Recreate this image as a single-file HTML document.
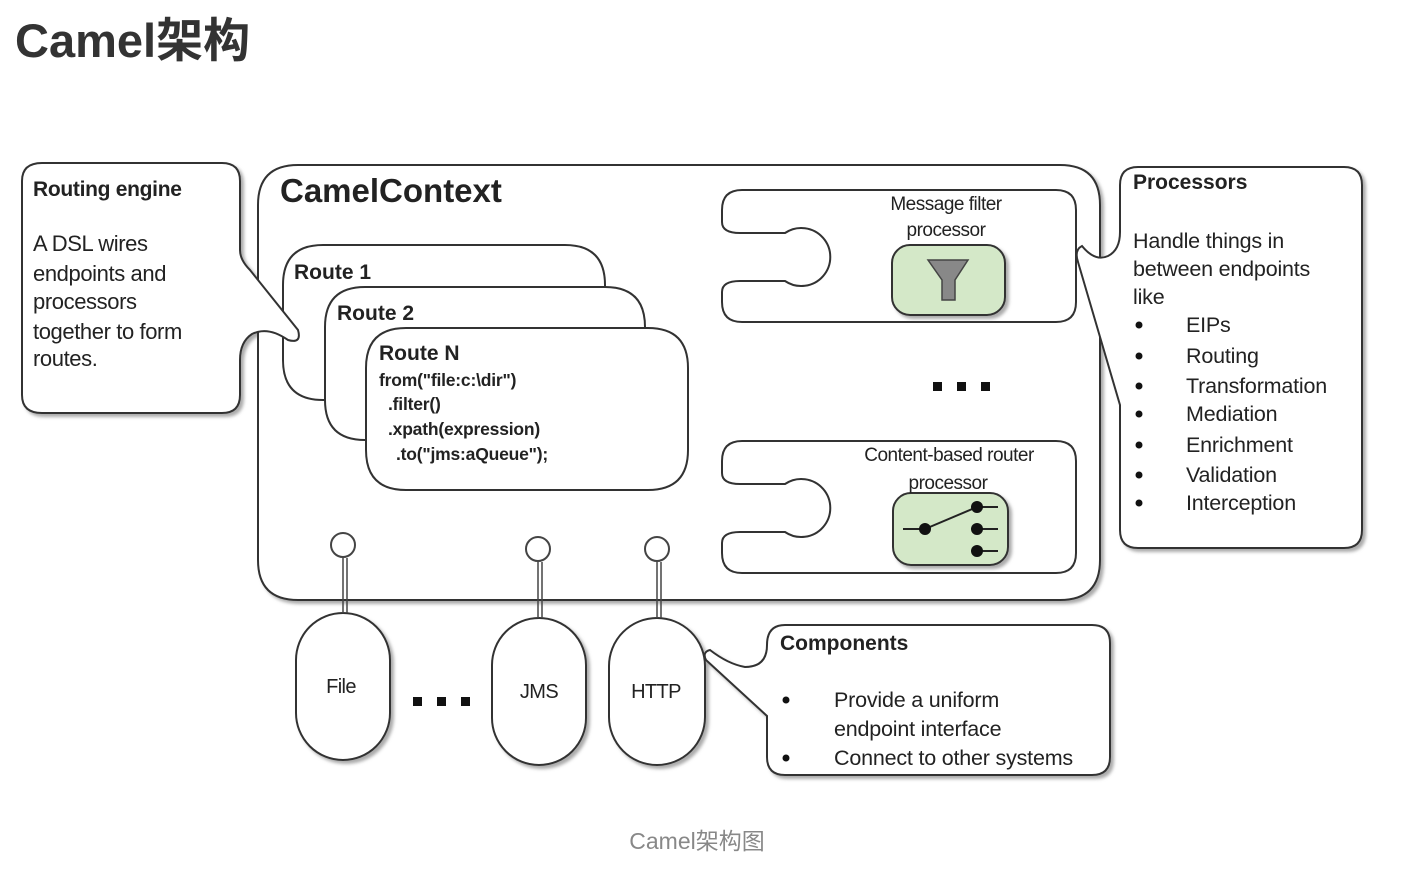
<!DOCTYPE html>
<html><head><meta charset="utf-8"><style>
html,body{margin:0;padding:0;background:#fff;}
svg{display:block;}
text{font-family:"Liberation Sans","Noto Sans CJK SC",sans-serif;fill:#222;}
</style></head><body>
<svg width="1410" height="884" viewBox="0 0 1410 884" xmlns="http://www.w3.org/2000/svg">
<defs>
<filter id="sh" x="-10%" y="-10%" width="130%" height="130%">
<feDropShadow dx="3" dy="3" stdDeviation="1.5" flood-color="#888" flood-opacity="0.7"/>
</filter>
</defs>
<text x="15" y="57" font-size="47" font-weight="bold" style="fill:#333">Camel架构</text>

<g fill="#fff" stroke="#333" stroke-width="2" filter="url(#sh)">
<path d="M298 165 H1060 Q1100 165 1100 205 V560 Q1100 600 1060 600 H298 Q258 600 258 560 V205 Q258 165 298 165 Z"/>
<path d="M1138 167 H1344 Q1362 167 1362 185 V530 Q1362 548 1344 548 H1138 Q1120 548 1120 530 V405 L1078 262 Q1074 250 1082 246 Q1095 262 1108 256 Q1120 250 1120 232 V185 Q1120 167 1138 167 Z"/>
<path d="M785 625 H1092 Q1110 625 1110 643 V757 Q1110 775 1092 775 H785 Q767 775 767 757 V716 L706 660 Q702 652 710 650 Q728 664 745 667 Q767 667 767 645 Q767 625 785 625 Z"/>
<path d="M323 245 H565 Q605 245 605 285 V400 H323 Q283 400 283 360 V285 Q283 245 323 245 Z"/>
<path d="M365 287 H605 Q645 287 645 327 V440 H365 Q325 440 325 400 V327 Q325 287 365 287 Z"/>
<path d="M406 328 H648 Q688 328 688 368 V450 Q688 490 648 490 H406 Q366 490 366 450 V368 Q366 328 406 328 Z"/>
<path d="M42 163 H222 Q240 163 240 181 V250 Q240 260 250 270 L298 330 Q302 344 288 340 Q268 326 252 334 Q240 342 240 360 V395 Q240 413 222 413 H42 Q22 413 22 395 V181 Q22 163 42 163 Z"/>
<path d="M742 190 H1056 Q1076 190 1076 210 V302 Q1076 322 1056 322 H742 Q722 322 722 302 V292 Q722 281 740 281 H785 A29 29 0 1 0 785 233 H740 Q722 233 722 222 V210 Q722 190 742 190 Z"/>
<path d="M742 441 H1056 Q1076 441 1076 461 V553 Q1076 573 1056 573 H742 Q722 573 722 553 V543 Q722 532 740 532 H785 A29 29 0 1 0 785 484 H740 Q722 484 722 473 V461 Q722 441 742 441 Z"/>
<rect x="296" y="613" width="94" height="147" rx="47"/>
<rect x="492" y="618" width="94" height="147" rx="47"/>
<rect x="609" y="618" width="96" height="147" rx="48"/>
</g>

<g stroke="#333" stroke-width="2" fill="#d4e8c8" filter="url(#sh)">
<rect x="892" y="245" width="113" height="70" rx="18"/>
<rect x="893" y="493" width="115" height="72" rx="18"/>
</g>
<path d="M928 260 H968 L955 280 V300 H942 V280 Z" fill="#888" stroke="#444" stroke-width="1.5"/>
<g stroke="#222" stroke-width="2">
<line x1="903" y1="529" x2="925" y2="529"/><line x1="925" y1="529" x2="977" y2="507"/>
<line x1="977" y1="507" x2="998" y2="507"/><line x1="977" y1="529" x2="998" y2="529"/><line x1="977" y1="551" x2="998" y2="551"/>
</g>
<g fill="#111"><circle cx="925" cy="529" r="6"/><circle cx="977" cy="507" r="6"/><circle cx="977" cy="529" r="6"/><circle cx="977" cy="551" r="6"/></g>

<g stroke="#444" stroke-width="1.5" fill="#fff">
<line x1="343" y1="558" x2="343" y2="613"/><line x1="347" y1="558" x2="347" y2="613"/>
<line x1="538" y1="562" x2="538" y2="618"/><line x1="542" y1="562" x2="542" y2="618"/>
<line x1="657" y1="562" x2="657" y2="618"/><line x1="661" y1="562" x2="661" y2="618"/>
<circle cx="343" cy="545" r="12" stroke-width="2"/>
<circle cx="538" cy="549" r="12" stroke-width="2"/>
<circle cx="657" cy="549" r="12" stroke-width="2"/>
</g>

<g fill="#111">
<rect x="933" y="382" width="9" height="9"/><rect x="957" y="382" width="9" height="9"/><rect x="981" y="382" width="9" height="9"/>
<rect x="413" y="697" width="9" height="9"/><rect x="437" y="697" width="9" height="9"/><rect x="461" y="697" width="9" height="9"/>
</g>

<text x="280" y="202" font-size="33" font-weight="bold">CamelContext</text>
<text x="33" y="196" font-size="21" font-weight="bold" letter-spacing="-0.3">Routing engine</text>
<g font-size="22" letter-spacing="-0.4">
<text x="33" y="251">A DSL wires</text>
<text x="33" y="281">endpoints and</text>
<text x="33" y="309">processors</text>
<text x="33" y="339">together to form</text>
<text x="33" y="366">routes.</text>
</g>
<text x="294" y="279" font-size="21" font-weight="bold">Route 1</text>
<text x="337" y="320" font-size="21" font-weight="bold">Route 2</text>
<text x="379" y="360" font-size="21" font-weight="bold">Route N</text>
<g font-size="17.5" font-weight="bold" letter-spacing="-0.2">
<text x="379" y="386">from("file:c:\dir")</text>
<text x="388" y="410">.filter()</text>
<text x="388" y="435">.xpath(expression)</text>
<text x="396" y="460">.to("jms:aQueue");</text>
</g>
<g font-size="19" letter-spacing="-0.5" text-anchor="middle">
<text x="946" y="210">Message filter</text>
<text x="946" y="236">processor</text>
<text x="949" y="461">Content-based router</text>
<text x="948" y="489">processor</text>
</g>
<text x="1133" y="189" font-size="21" font-weight="bold">Processors</text>
<g font-size="21.5" letter-spacing="-0.2">
<text x="1133" y="248">Handle things in</text>
<text x="1133" y="276">between endpoints</text>
<text x="1133" y="304">like</text>
<text x="1186" y="332">EIPs</text>
<text x="1186" y="363">Routing</text>
<text x="1186" y="393">Transformation</text>
<text x="1186" y="421">Mediation</text>
<text x="1186" y="452">Enrichment</text>
<text x="1186" y="482">Validation</text>
<text x="1186" y="510">Interception</text>
</g>
<g fill="#111">
<circle cx="1139" cy="325" r="3.5"/><circle cx="1139" cy="356" r="3.5"/><circle cx="1139" cy="386" r="3.5"/><circle cx="1139" cy="414" r="3.5"/><circle cx="1139" cy="445" r="3.5"/><circle cx="1139" cy="475" r="3.5"/><circle cx="1139" cy="503" r="3.5"/>
</g>
<text x="780" y="650" font-size="21" font-weight="bold">Components</text>
<g font-size="21.5" letter-spacing="-0.2">
<text x="834" y="707">Provide a uniform</text>
<text x="834" y="736">endpoint interface</text>
<text x="834" y="765">Connect to other systems</text>
</g>
<circle cx="786" cy="700" r="3.5" fill="#111"/><circle cx="786" cy="758" r="3.5" fill="#111"/>
<g font-size="20" letter-spacing="-0.6" text-anchor="middle">
<text x="341" y="693">File</text>
<text x="539" y="698">JMS</text>
<text x="656" y="698">HTTP</text>
</g>
<text x="697" y="849" font-size="23" text-anchor="middle" style="fill:#888">Camel架构图</text>
</svg>
</body></html>
